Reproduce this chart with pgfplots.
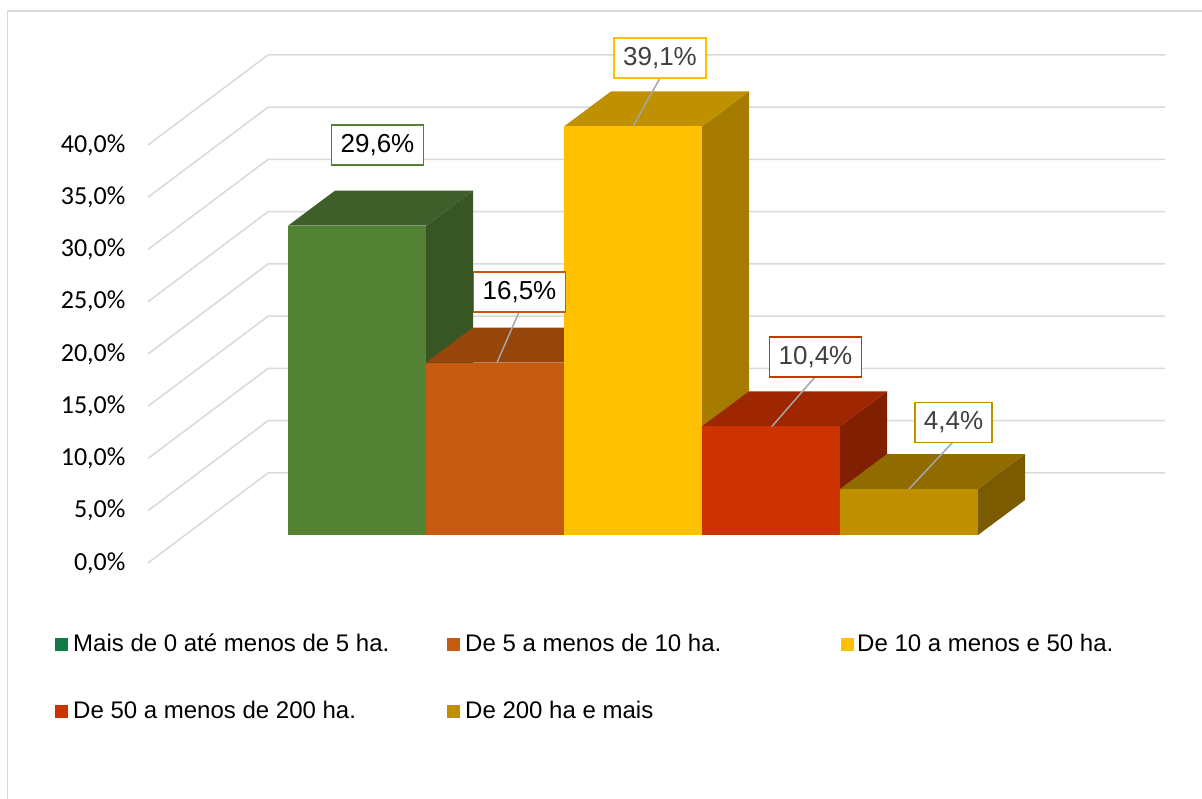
\documentclass[border=0pt]{standalone}
\usepackage{pgfplots}
\pgfplotsset{compat=1.18}
\usepackage{fontspec}
\setmainfont{Liberation Sans}
\newfontfamily\calib{Carlito}

\definecolor{gridc}{HTML}{D9D9D9}
\definecolor{leadc}{HTML}{A6A6A6}
\definecolor{txtg}{HTML}{404040}
% bar colours: front / top / side
\definecolor{gF}{HTML}{548235}\definecolor{gT}{HTML}{3F5F2A}\definecolor{gS}{HTML}{375623}
\definecolor{oF}{HTML}{C55A11}\definecolor{oT}{HTML}{96450B}\definecolor{oS}{HTML}{843C0C}
\definecolor{yF}{HTML}{FFC000}\definecolor{yT}{HTML}{BF9000}\definecolor{yS}{HTML}{A67C00}
\definecolor{rF}{HTML}{CC3300}\definecolor{rT}{HTML}{9E2600}\definecolor{rS}{HTML}{802000}
\definecolor{dF}{HTML}{BF8F00}\definecolor{dT}{HTML}{8F6B00}\definecolor{dS}{HTML}{7A5B00}
\definecolor{legG}{HTML}{117A45}

\begin{document}
\begin{tikzpicture}[x=1pt,y=1pt]
\useasboundingbox (0,0) rectangle (1202,799);
\begin{scope}
\clip (0,0) rectangle (1202,799);
\draw[gridc, line width=1.5pt] (7.5,-5) -- (7.5,788) -- (1210,788);
\end{scope}

\begin{axis}[
  at={(148pt,236pt)}, anchor=south west,
  scale only axis, width=1017pt, height=508pt,
  xmin=-0.51449, xmax=6.85507, ymin=-2.6794, ymax=45.933,
  clip=false,
  axis line style={draw=none},
  xtick=\empty,
  ytick={-2.6794,2.3206,7.3206,12.3206,17.3206,22.3206,27.3206,32.3206,37.3206},
  yticklabels={{0,0\%},{5,0\%},{10,0\%},{15,0\%},{20,0\%},{25,0\%},{30,0\%},{35,0\%},{40,0\%}},
  major tick length=0pt,
  yticklabel style={font=\calib\fontsize{26}{30}\selectfont, text=black, xshift=-19pt},
]
% side wall diagonals and back wall gridlines
\addplot[gridc, line width=1.5pt, forget plot, unbounded coords=jump] coordinates {
 (-0.51449,-2.6794) (0.3551,5.933) (6.85507,5.933) (nan,nan)
 (-0.51449,2.3206) (0.3551,10.933) (6.85507,10.933) (nan,nan)
 (-0.51449,7.3206) (0.3551,15.933) (6.85507,15.933) (nan,nan)
 (-0.51449,12.3206) (0.3551,20.933) (6.85507,20.933) (nan,nan)
 (-0.51449,17.3206) (0.3551,25.933) (6.85507,25.933) (nan,nan)
 (-0.51449,22.3206) (0.3551,30.933) (6.85507,30.933) (nan,nan)
 (-0.51449,27.3206) (0.3551,35.933) (6.85507,35.933) (nan,nan)
 (-0.51449,32.3206) (0.3551,40.933) (6.85507,40.933) (nan,nan)
 (-0.51449,37.3206) (0.3551,45.933) (6.85507,45.933)
};

% Bar 1: 29.6
\addplot[fill=gS, draw=none, forget plot] coordinates {(1.5,0) (1.8406,3.349) (1.8406,32.949) (1.5,29.6)} -- cycle;
\addplot[fill=gT, draw=none, forget plot] coordinates {(0.5,29.6) (1.5,29.6) (1.8406,32.949) (0.8406,32.949)} -- cycle;
\addplot[fill=gF, draw=none, forget plot] coordinates {(0.5,0) (1.5,0) (1.5,29.6) (0.5,29.6)} -- cycle;
% Bar 2: 16.5
\addplot[fill=oS, draw=none, forget plot] coordinates {(2.5,0) (2.8406,3.349) (2.8406,19.849) (2.5,16.5)} -- cycle;
\addplot[fill=oT, draw=none, forget plot] coordinates {(1.5,16.5) (2.5,16.5) (2.8406,19.849) (1.8406,19.849)} -- cycle;
\addplot[fill=oF, draw=none, forget plot] coordinates {(1.5,0) (2.5,0) (2.5,16.5) (1.5,16.5)} -- cycle;
% Bar 3: 39.1
\addplot[fill=yS, draw=none, forget plot] coordinates {(3.5,0) (3.8406,3.349) (3.8406,42.449) (3.5,39.1)} -- cycle;
\addplot[fill=yT, draw=none, forget plot] coordinates {(2.5,39.1) (3.5,39.1) (3.8406,42.449) (2.8406,42.449)} -- cycle;
\addplot[fill=yF, draw=none, forget plot] coordinates {(2.5,0) (3.5,0) (3.5,39.1) (2.5,39.1)} -- cycle;
% Bar 4: 10.4
\addplot[fill=rS, draw=none, forget plot] coordinates {(4.5,0) (4.8406,3.349) (4.8406,13.749) (4.5,10.4)} -- cycle;
\addplot[fill=rT, draw=none, forget plot] coordinates {(3.5,10.4) (4.5,10.4) (4.8406,13.749) (3.8406,13.749)} -- cycle;
\addplot[fill=rF, draw=none, forget plot] coordinates {(3.5,0) (4.5,0) (4.5,10.4) (3.5,10.4)} -- cycle;
% Bar 5: 4.4
\addplot[fill=dS, draw=none, forget plot] coordinates {(5.5,0) (5.8406,3.349) (5.8406,7.749) (5.5,4.4)} -- cycle;
\addplot[fill=dT, draw=none, forget plot] coordinates {(4.5,4.4) (5.5,4.4) (5.8406,7.749) (4.8406,7.749)} -- cycle;
\addplot[fill=dF, draw=none, forget plot] coordinates {(4.5,0) (5.5,0) (5.5,4.4) (4.5,4.4)} -- cycle;

% leader lines
\addplot[leadc, line width=1.5pt, forget plot] coordinates {(2.174,21.34) (2.0145,16.5)};
\addplot[leadc, line width=1.5pt, forget plot] coordinates {(3.1957,43.73) (3.0,39.1)};
\addplot[leadc, line width=1.5pt, forget plot] coordinates {(4.3188,15.12) (4.007,10.4)};
\addplot[leadc, line width=1.5pt, forget plot] coordinates {(5.3188,8.90) (5.0,4.4)};

% data labels
\tikzset{dlab/.style={fill=white, line width=1.5pt, inner xsep=9pt, minimum height=40pt, font=\fontsize{26}{30}\selectfont}}
\node[dlab, draw=gF, text=black] at (axis cs:1.1486,37.32) {29,6\%};
\node[dlab, draw=oF, text=black] at (axis cs:2.1775,23.25) {16,5\%};
\node[dlab, draw=yF, text=txtg] at (axis cs:3.1957,45.65) {39,1\%};
\node[dlab, draw=rF, text=txtg] at (axis cs:4.3225,17.03) {10,4\%};
\node[dlab, draw=dF, text=txtg] at (axis cs:5.3225,10.77) {4,4\%};
\end{axis}

% legend
\tikzset{legt/.style={anchor=base west, inner sep=0pt, font=\fontsize{24}{28}\selectfont, text=black}}
\fill[legG] (55,147.5) rectangle (68,160.5);
\node[legt] at (73,147) {Mais de 0 até menos de 5 ha.};
\fill[oF] (447,147.5) rectangle (460,160.5);
\node[legt] at (465,147) {De 5 a menos de 10 ha.};
\fill[yF] (841,147.5) rectangle (854,160.5);
\node[legt] at (857,147) {De 10 a menos e 50 ha.};
\fill[rF] (55,80.5) rectangle (68,93.5);
\node[legt] at (73,80) {De 50 a menos de 200 ha.};
\fill[dF] (447,80.5) rectangle (460,93.5);
\node[legt] at (465,80) {De 200 ha e mais};
\end{tikzpicture}
\end{document}
